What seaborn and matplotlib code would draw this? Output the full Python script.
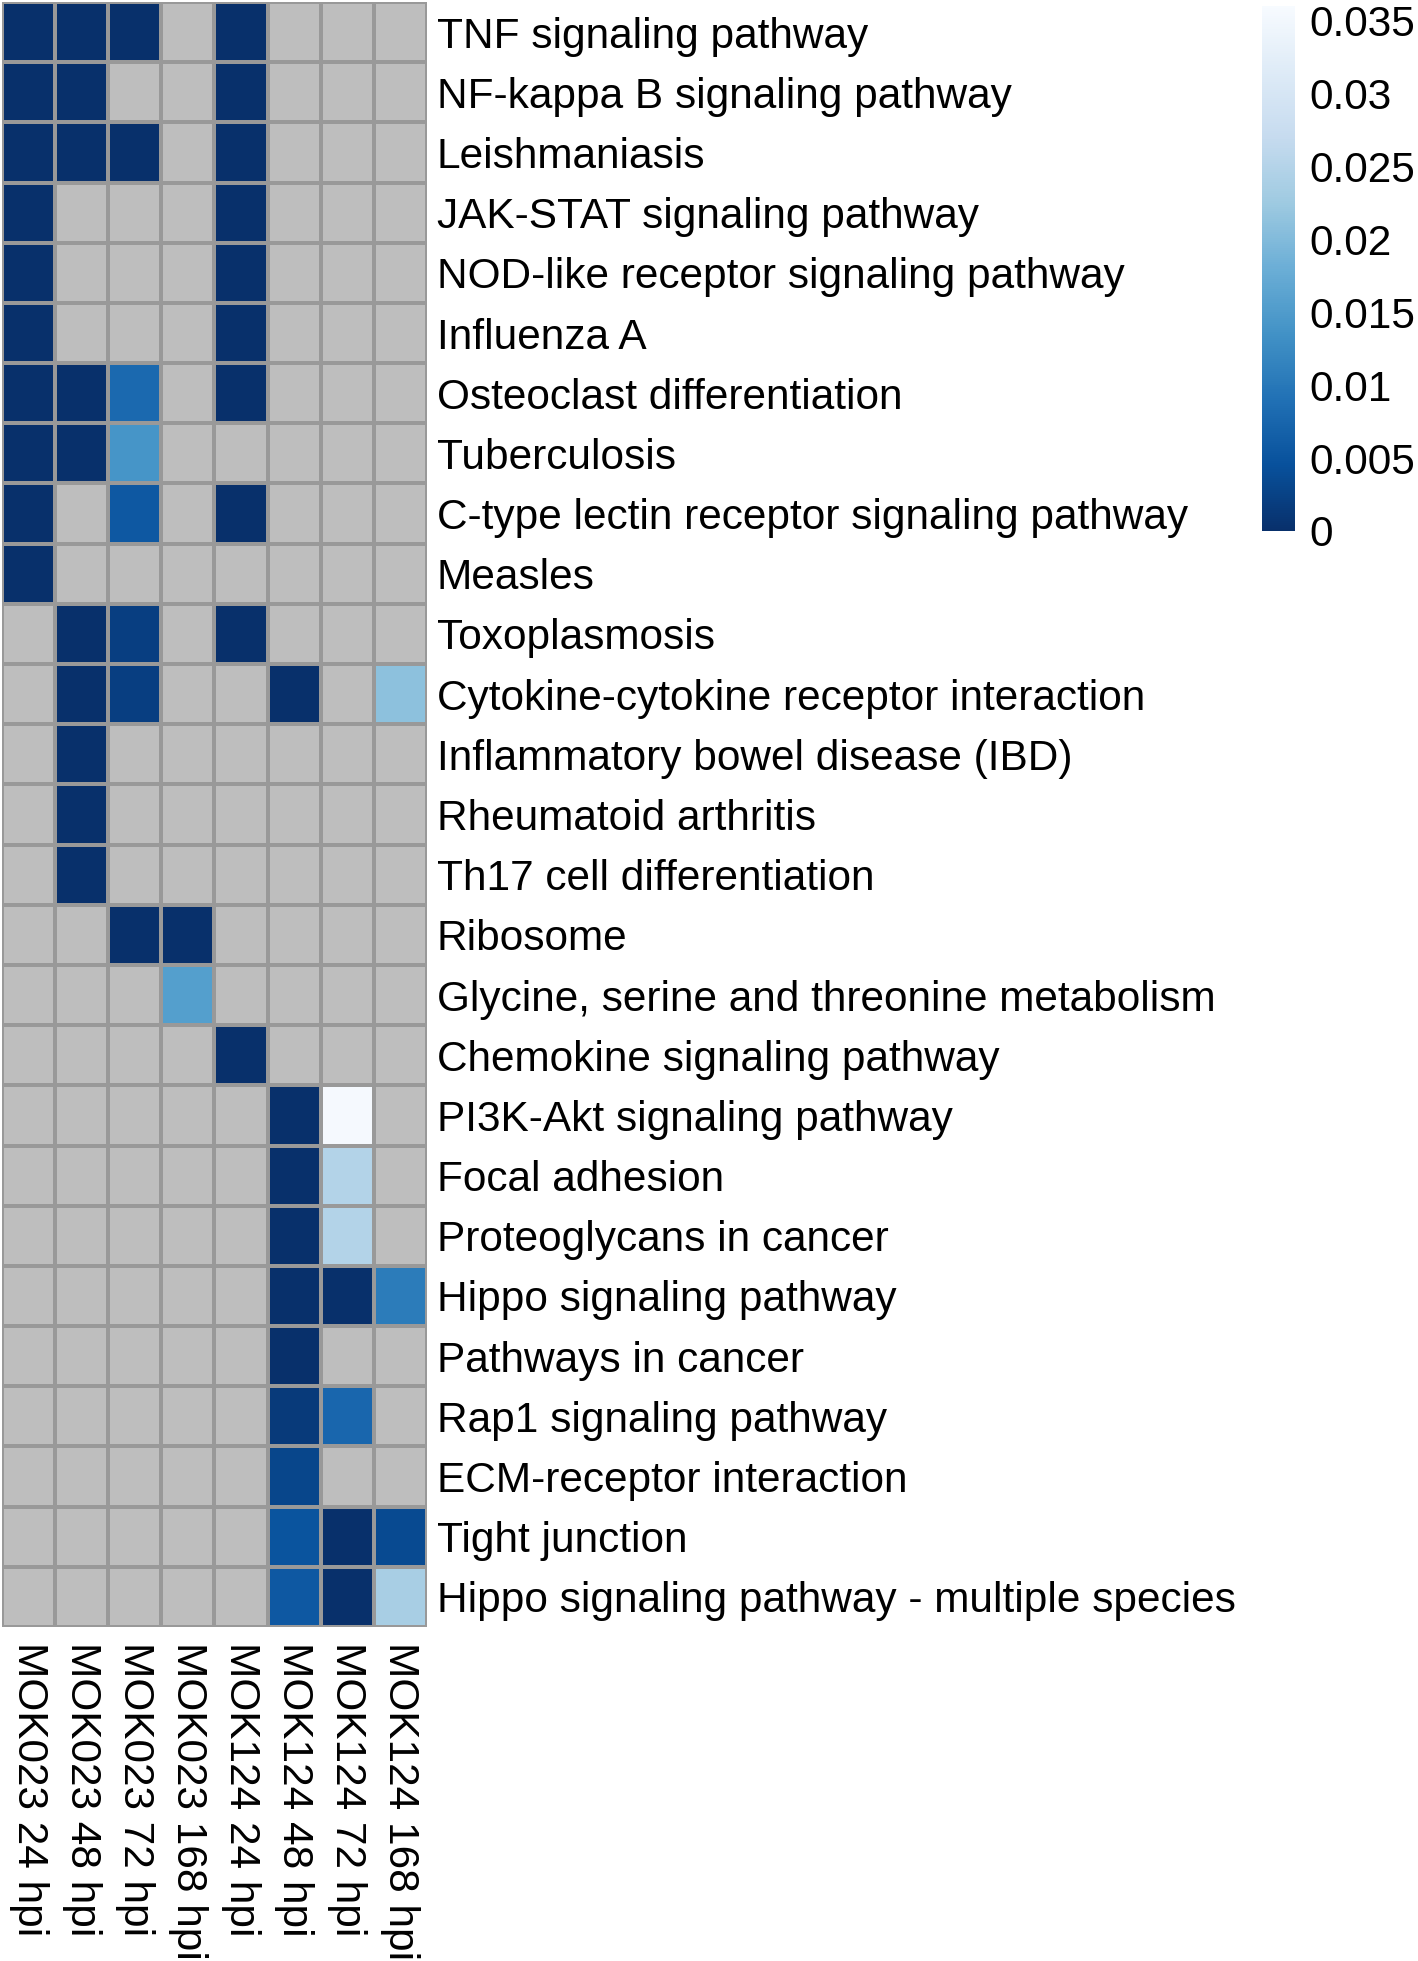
import numpy as np
import pandas as pd
import seaborn as sns
import matplotlib.pyplot as plt
from matplotlib.colors import ListedColormap

plt.rcParams['font.family'] = ['Liberation Sans', 'DejaVu Sans']

pathways = ["TNF signaling pathway", "NF-kappa B signaling pathway", "Leishmaniasis",
            "JAK-STAT signaling pathway", "NOD-like receptor signaling pathway", "Influenza A",
            "Osteoclast differentiation", "Tuberculosis", "C-type lectin receptor signaling pathway",
            "Measles", "Toxoplasmosis", "Cytokine-cytokine receptor interaction",
            "Inflammatory bowel disease (IBD)", "Rheumatoid arthritis", "Th17 cell differentiation",
            "Ribosome", "Glycine, serine and threonine metabolism", "Chemokine signaling pathway",
            "PI3K-Akt signaling pathway", "Focal adhesion", "Proteoglycans in cancer",
            "Hippo signaling pathway", "Pathways in cancer", "Rap1 signaling pathway",
            "ECM-receptor interaction", "Tight junction", "Hippo signaling pathway - multiple species"]

samples = ["MOK023 24 hpi", "MOK023 48 hpi", "MOK023 72 hpi", "MOK023 168 hpi",
           "MOK124 24 hpi", "MOK124 48 hpi", "MOK124 72 hpi", "MOK124 168 hpi"]

na = np.nan
# adjusted p-values per sample (NaN = not enriched)
mok023_24 = [0, 0, 0, 0, 0, 0, 0, 0, 0, 0, na, na, na, na, na, na, na, na, na, na, na, na, na, na, na, na, na]
mok023_48 = [0, 0, 0, na, na, na, 0, 0, na, na, 0, 0, 0, 0, 0, na, na, na, na, na, na, na, na, na, na, na, na]
mok023_72 = [0, na, 0, na, na, na, 0.008, 0.014, 0.0055, na, 0.002, 0.002, na, na, na, 0, na, na, na, na, na, na, na, na, na, na, na]
mok023_168 = [na, na, na, na, na, na, na, na, na, na, na, na, na, na, na, 0, 0.0155, na, na, na, na, na, na, na, na, na, na]
mok124_24 = [0, 0, 0, 0, 0, 0, 0, na, 0, na, 0, na, na, na, na, na, na, 0, na, na, na, na, na, na, na, na, na]
mok124_48 = [na, na, na, na, na, na, na, na, na, na, na, 0, na, na, na, na, na, na, 0, 0, 0, 0, 0, 0.0015, 0.003, 0.005, 0.0055]
mok124_72 = [na, na, na, na, na, na, na, na, na, na, na, na, na, na, na, na, na, na, 0.0355, 0.0248, 0.0248, 0, na, 0.0075, na, 0, 0]
mok124_168 = [na, na, na, na, na, na, na, na, na, na, na, 0.021, na, na, na, na, na, na, na, na, na, 0.0105, na, na, na, 0.0036, 0.0235]

cbar_ticks = [0, 0.005, 0.01, 0.015, 0.02, 0.025, 0.03, 0.035]
cbar_labels = ["0", "0.005", "0.01", "0.015", "0.02", "0.025", "0.03", "0.035"]

df = pd.DataFrame({s: v for s, v in zip(samples, [mok023_24, mok023_48, mok023_72, mok023_168,
                                                   mok124_24, mok124_48, mok124_72, mok124_168])},
                  index=pathways)

W, H = 1418, 1961
fs = 30.5
fig = plt.figure(figsize=(W / 100, H / 100), dpi=100)
ax = fig.add_axes([2 / W, 1 - 1627 / H, 425 / W, 1625 / H])
cax = fig.add_axes([1262 / W, 1 - 531 / H, 33 / W, 525 / H])

# grey background layer for missing cells
sns.heatmap(np.zeros(df.shape), cmap=ListedColormap(['#BEBEBE']), cbar=False,
            linewidths=1.6, linecolor='#999999', ax=ax)
sns.heatmap(df, cmap='Blues_r', vmin=0, vmax=0.036, linewidths=1.6, linecolor='#999999',
            ax=ax, cbar_ax=cax, xticklabels=True, yticklabels=True)

ax.yaxis.tick_right()
ax.set_yticks(np.arange(len(pathways)) + 0.5)
ax.set_yticklabels(pathways, rotation=0, fontsize=fs, ha='left')
ax.set_xticks(np.arange(len(samples)) + 0.5)
ax.set_xticklabels(samples, rotation=270, fontsize=fs, va='top', ha='center')
ax.tick_params(axis='both', length=0)
ax.tick_params(axis='y', pad=7)
ax.tick_params(axis='x', pad=11)
ax.set_xlabel('')
ax.set_ylabel('')

cax.set_yticks(cbar_ticks)
cax.set_yticklabels(cbar_labels, fontsize=fs)
cax.tick_params(length=0, pad=10)
for sp in cax.spines.values():
    sp.set_visible(False)

fig.savefig('out.png', dpi=100)
